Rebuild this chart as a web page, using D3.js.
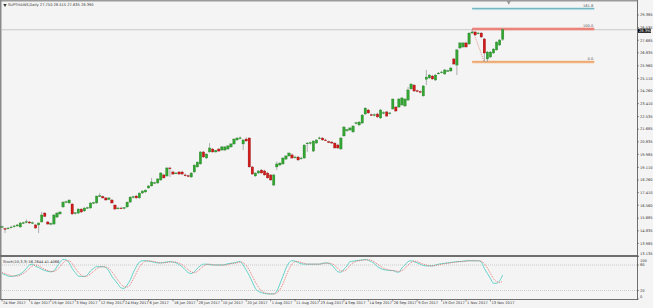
<!DOCTYPE html>
<html>
<head>
<meta charset="utf-8">
<script src="https://cdn.jsdelivr.net/npm/d3@7"></script>
<style>
  html, body { margin: 0; padding: 0; background: #f4f4f4; }
  svg { display: block; font-family: "DejaVu Sans", sans-serif; }
</style>
</head>
<body>
<svg id="chart" width="653" height="308"></svg>
<script>
// daily candles, [open, high, low, close]
const ohlc = [
  [15.09,15.18,15.02,15.12],[14.98,15.05,14.68,14.95],[14.98,15.09,14.92,15.02],[15.05,15.16,15.00,15.09],
  [15.12,15.23,15.05,15.16],[15.16,15.29,15.12,15.23],[15.09,15.43,15.05,15.36],[15.36,15.45,15.29,15.38],
  [15.40,15.60,15.33,15.45],[15.43,15.50,15.30,15.36],[15.36,15.45,15.29,15.38],[15.23,15.30,14.98,15.02],
  [15.23,15.40,14.68,15.36],[15.43,16.10,15.40,15.90],[16.03,16.10,15.76,15.80],[15.43,15.50,15.25,15.29],
  [15.29,15.40,15.20,15.33],[15.29,15.95,15.25,15.90],[15.76,16.10,15.70,16.03],[15.97,16.17,15.93,16.10],
  [16.44,16.84,16.40,16.77],[16.77,16.86,16.70,16.80],[16.71,16.95,16.65,16.91],[16.64,16.70,15.90,15.97],
  [16.00,16.10,15.93,16.05],[16.03,16.36,15.97,16.30],[16.30,16.36,16.05,16.10],[16.17,16.42,16.12,16.37],
  [16.37,16.45,16.30,16.40],[16.37,16.75,16.33,16.71],[16.71,16.80,16.64,16.73],[16.71,17.20,16.66,17.18],
  [17.18,17.38,17.10,17.20],[17.15,17.22,17.00,17.05],[17.05,17.10,16.88,16.91],[16.95,17.10,16.90,17.05],
  [16.91,16.98,16.68,16.71],[16.57,16.62,16.28,16.30],[16.33,16.44,16.28,16.37],[16.37,16.45,16.30,16.35],
  [16.35,16.44,16.28,16.40],[16.44,16.80,16.40,16.77],[16.77,17.15,16.72,17.11],[17.11,17.20,17.02,17.13],
  [17.18,17.25,17.00,17.05],[17.05,17.42,17.00,17.38],[17.38,17.55,17.33,17.52],[17.45,17.62,17.40,17.58],
  [17.72,17.90,17.68,17.86],[17.86,18.40,17.82,18.13],[18.06,18.15,17.98,18.08],[18.06,18.38,18.00,18.33],
  [18.26,18.80,18.20,18.73],[18.60,18.68,18.35,18.40],[18.53,19.14,18.48,19.07],[19.07,19.15,18.46,19.05],
  [18.80,18.90,18.62,18.66],[18.70,18.80,18.65,18.73],[18.80,18.85,18.62,18.66],[18.80,18.88,18.60,18.66],
  [18.60,18.70,18.50,18.58],[18.55,18.62,18.45,18.53],[18.46,18.78,18.42,18.73],[18.80,19.30,18.75,19.27],
  [19.14,19.50,19.10,19.47],[19.34,20.20,19.30,20.15],[20.15,20.22,19.76,19.81],[19.74,20.05,19.70,20.01],
  [20.15,20.75,20.10,20.42],[20.35,20.42,20.10,20.15],[20.15,20.30,20.10,20.25],[20.35,20.40,20.18,20.21],
  [20.28,20.55,20.24,20.49],[20.28,20.55,20.22,20.49],[20.35,20.60,20.30,20.56],[20.49,20.75,20.44,20.69],
  [20.69,21.08,20.64,21.02],[20.96,21.15,20.90,21.09],[21.09,21.20,21.00,21.10],[20.69,21.00,20.28,20.96],
  [21.02,21.15,20.85,20.89],[21.09,21.15,19.10,19.14],[19.14,19.20,18.62,18.66],[18.53,18.78,18.48,18.73],
  [18.73,18.92,18.68,18.87],[18.93,19.00,18.70,18.73],[18.87,18.95,18.55,18.60],[18.73,18.80,18.35,18.40],
  [18.60,18.65,18.20,18.26],[17.92,18.66,17.85,18.60],[19.14,19.50,18.93,19.34],[19.27,19.47,19.20,19.40],
  [19.34,19.80,19.30,19.74],[19.67,19.92,19.62,19.88],[19.88,20.12,19.84,20.08],[19.95,20.05,19.70,19.74],
  [19.78,19.90,19.70,19.81],[19.81,19.88,19.55,19.61],[19.70,19.82,19.62,19.74],[19.74,20.65,19.70,20.62],
  [20.72,20.82,20.15,20.75],[20.75,20.85,20.65,20.78],[20.21,20.92,20.15,20.89],[20.75,21.00,20.70,20.96],
  [21.07,21.18,21.00,21.10],[21.09,21.15,20.90,20.96],[20.96,21.05,20.88,20.94],[20.84,20.92,20.75,20.80],
  [20.82,20.88,20.70,20.75],[20.75,20.80,20.38,20.42],[20.62,20.70,20.35,20.42],[20.35,21.15,20.30,21.09],
  [21.23,21.90,21.18,21.83],[21.58,21.72,21.50,21.65],[21.63,21.80,21.58,21.77],[21.50,21.95,21.45,21.90],
  [22.08,22.18,22.00,22.12],[21.97,22.22,21.92,22.17],[22.10,22.70,22.05,22.64],[22.71,23.15,22.65,23.11],
  [22.98,23.05,22.72,22.78],[22.66,22.75,22.58,22.64],[22.64,22.75,22.55,22.66],[22.71,22.80,22.45,22.51],
  [22.44,23.05,22.38,22.98],[22.78,22.90,22.70,22.80],[22.85,22.92,22.52,22.57],[22.75,22.85,22.68,22.78],
  [23.05,23.75,23.00,23.72],[23.18,23.25,22.88,22.91],[23.18,23.78,23.12,23.72],[23.32,23.85,23.28,23.79],
  [23.25,23.76,23.20,23.72],[23.65,24.53,23.60,24.33],[24.40,24.78,24.35,24.73],[24.66,24.72,24.20,24.26],
  [24.28,24.35,24.18,24.24],[24.22,24.30,24.12,24.19],[23.93,24.66,23.88,24.60],[25.05,25.68,24.66,25.20],
  [25.14,25.40,25.08,25.34],[25.27,25.35,25.02,25.07],[25.00,25.40,24.95,25.34],[25.45,25.55,25.38,25.47],
  [25.52,25.62,25.45,25.54],[25.41,25.74,25.36,25.68],[25.60,25.70,25.55,25.63],[25.61,25.88,25.56,25.81],
  [26.42,26.50,26.03,26.08],[26.01,27.10,25.34,27.03],[27.16,27.56,27.10,27.50],[27.23,27.56,27.18,27.50],
  [27.50,27.58,27.18,27.23],[27.43,28.20,27.38,28.17],[28.17,28.44,28.12,28.24],[28.24,28.31,27.98,28.04],
  [28.15,28.25,28.08,28.17],[28.17,28.22,27.85,27.90],[27.77,27.83,26.22,26.82],[26.42,26.95,26.22,26.89],
  [26.55,26.95,26.50,26.89],[26.82,27.15,26.78,27.09],[27.03,27.62,26.98,27.56],[27.36,27.76,27.30,27.70],
  [27.750,28.515,27.635,28.390]
];

// Stoch(10,3,3) main and signal
const stochK = [
  60,57,54,53,54,56,59,64,72,80,82,77,74,70,67,65,64,66,76,86,
  93,92,85,72,62,54,53,53,57,66,72,76,76,76,74,66,53,44,35,26,
  25,33,45,62,76,87,90,90,89,88,86,85,85,86,87,88,87,85,81,76,
  69,62,60,64,72,78,82,82,81,80,80,80,80,81,83,84,85,87,88,80,
  68,55,40,25,18,15,13,12,12,12,18,35,53,72,85,90,89,86,83,82,
  82,82,82,82,82,84,85,84,80,72,64,63,70,78,88,89,90,91,92,93,
  91,88,83,76,72,69,68,67,67,64,63,73,80,88,90,88,85,82,79,78,
  78,78,80,82,83,84,85,86,87,88,88,89,90,90,90,90,90,87,72,60,
  48,37,37,43,56.2644
];
const stochD = [
  62,60,57,55,54,54,56,60,65,72,78,80,78,74,70,67,65,65,69,76,
  85,90,90,83,73,63,56,53,54,59,65,71,75,76,75,72,64,54,44,35,
  29,28,34,47,61,75,84,89,90,89,88,86,85,85,86,87,87,87,84,81,
  75,69,64,62,65,71,77,81,82,81,80,80,80,80,81,83,84,85,87,85,
  79,68,54,40,28,19,15,13,12,12,14,22,35,53,70,82,88,88,86,84,
  82,82,82,82,82,83,84,84,83,79,72,66,66,70,79,85,89,90,91,92,
  92,91,87,82,77,72,70,68,67,66,65,67,72,80,86,89,88,85,82,80,
  78,78,79,80,82,83,84,85,86,87,88,88,89,90,90,90,90,89,83,73,
  60,48,41,39,41.4066
];

const priceTicks = [29.385, 28.535, 27.685, 26.835, 25.960, 25.110, 24.260, 23.410, 22.535, 21.685,
  20.835, 19.985, 19.110, 18.260, 17.410, 16.560, 15.685, 14.835, 13.985, 13.135];
const stochTicks = [100, 80, 20, 0];
const stochLevels = [80, 20];

const dateLabels = ["24 Mar 2017","5 Apr 2017","19 Apr 2017","3 May 2017","12 May 2017","24 May 2017",
  "6 Jun 2017","16 Jun 2017","28 Jun 2017","10 Jul 2017","20 Jul 2017","1 Aug 2017","11 Aug 2017",
  "23 Aug 2017","4 Sep 2017","14 Sep 2017","26 Sep 2017","9 Oct 2017","19 Oct 2017","1 Nov 2017","13 Nov 2017"];
const dateBars = [0, 9, 16, 24, 32, 40, 48, 56, 64, 72, 80, 88, 96, 104, 112, 120, 128, 136, 144, 152, 160];

// fibonacci retracement drawn on the last swing
const fibLevels = [161.8, 100.0, 0.0];
const fibAnchor = { bar0: 154, bar1: 158, high: 28.44, low: 26.22, barEnd: 194 };

const lastBar = ohlc[ohlc.length - 1];
const titleText = "SUPTHAINS,Daily  " + lastBar.map(v => v.toFixed(3)).join(" ");

const W = 653, H = 308;
const axisX = 637;
const svg = d3.select("#chart");

const x = d3.scaleLinear().domain([0, 208]).range([2, axisX]);
const y = d3.scaleLinear().domain([13.135, 29.385]).range([256, 15]);
const ys = d3.scaleLinear().domain([0, 100]).range([299, 256.5]);

// frame
svg.append("rect").attr("width", W).attr("height", H).attr("fill", "#f4f4f4");
svg.append("line").attr("x1", 0).attr("x2", axisX).attr("y1", 0.5).attr("y2", 0.5)
  .attr("stroke", "#9a9a9a").attr("stroke-width", 2);
svg.append("line").attr("x1", 0.5).attr("x2", 0.5).attr("y1", 0).attr("y2", 299)
  .attr("stroke", "#8a8a8a").attr("stroke-width", 2);
svg.append("line").attr("x1", 0).attr("x2", axisX).attr("y1", 256).attr("y2", 256)
  .attr("stroke", "#6e6e6e").attr("stroke-width", 2);
svg.append("line").attr("x1", 0).attr("x2", axisX).attr("y1", 299.5).attr("y2", 299.5)
  .attr("stroke", "#6e6e6e").attr("stroke-width", 1);
svg.append("line").attr("x1", axisX + 0.5).attr("x2", axisX + 0.5).attr("y1", 0).attr("y2", 300)
  .attr("stroke", "#6e6e6e").attr("stroke-width", 1);

// chart-shift marker
svg.append("path").attr("d", d3.symbol(d3.symbolTriangle, 10)())
  .attr("transform", `translate(${x(166)},2) rotate(180)`).attr("fill", "#9a9a9a");

// bid line
svg.append("line").attr("x1", 2).attr("x2", axisX).attr("y1", y(lastBar[3])).attr("y2", y(lastBar[3]))
  .attr("stroke", "#c8c8c8").attr("stroke-width", 1);

// fibonacci
const fib = svg.append("g");
const fibY = lv => y(fibAnchor.low + (fibAnchor.high - fibAnchor.low) * lv / 100);
const fibStyle = { "161.8": ["#c9e6ea", "#63aebb"], "100": ["#f5b0a8", "#e2574c"], "0": ["#f7d3b4", "#e38b46"] };
fibLevels.forEach(lv => {
  const st = fibStyle[String(lv)];
  fib.append("line").attr("x1", x(fibAnchor.bar0)).attr("x2", x(fibAnchor.barEnd))
    .attr("y1", fibY(lv)).attr("y2", fibY(lv)).attr("stroke", st[0]).attr("stroke-width", 3);
  fib.append("line").attr("x1", x(fibAnchor.bar0)).attr("x2", x(fibAnchor.barEnd))
    .attr("y1", fibY(lv)).attr("y2", fibY(lv)).attr("stroke", st[1]).attr("stroke-width", 1);
  fib.append("text").attr("x", x(fibAnchor.barEnd) - 1).attr("y", fibY(lv) - 2)
    .attr("text-anchor", "end").attr("font-size", 3.6).attr("fill", "#555").text(lv.toFixed(1));
});
fib.append("line").attr("x1", x(fibAnchor.bar0)).attr("y1", y(fibAnchor.high))
  .attr("x2", x(fibAnchor.bar1)).attr("y2", y(fibAnchor.low))
  .attr("stroke", "#e26a60").attr("stroke-width", 0.8).attr("stroke-dasharray", "1,1.2");

// candles
const bw = 2.4;
const candles = svg.append("g").selectAll("g").data(ohlc).join("g");
candles.append("line")
  .attr("x1", (d, i) => x(i)).attr("x2", (d, i) => x(i))
  .attr("y1", d => y(d[1])).attr("y2", d => y(d[2]))
  .attr("stroke", "#9c9c9c").attr("stroke-width", 0.8);
candles.append("rect")
  .attr("x", (d, i) => x(i) - bw / 2).attr("width", bw)
  .attr("y", d => y(Math.max(d[0], d[3])))
  .attr("height", d => Math.max(0.8, Math.abs(y(d[0]) - y(d[3]))))
  .attr("fill", d => d[3] >= d[0] ? "#33a533" : "#d11a1a")
  .attr("stroke", d => d[3] >= d[0] ? "#1f7a1f" : "#8e0d0d").attr("stroke-width", 0.3);

// price axis
const pa = svg.append("g").attr("font-size", 3.6).attr("fill", "#333");
priceTicks.forEach(t => {
  pa.append("line").attr("x1", axisX).attr("x2", axisX + 2).attr("y1", y(t)).attr("y2", y(t)).attr("stroke", "#555").attr("stroke-width", 0.6);
  const ty = t === 13.135 ? 254.8 : y(t) + 1.3;
  pa.append("text").attr("x", axisX + 3).attr("y", ty).text(t.toFixed(3));
});
const bidY = y(lastBar[3]) + 1;
pa.append("rect").attr("x", axisX + 1).attr("y", bidY - 2.1).attr("width", 13).attr("height", 4.2).attr("fill", "#111");
pa.append("text").attr("x", axisX + 2).attr("y", bidY + 1.3).attr("fill", "#fff").text(lastBar[3].toFixed(3));

// title
svg.append("path").attr("d", d3.symbol(d3.symbolTriangle, 5)())
  .attr("transform", "translate(5,5) rotate(180)").attr("fill", "#333");
svg.append("text").attr("x", 8).attr("y", 6.3).attr("font-size", 3.6).attr("fill", "#333").text(titleText);

// stochastic pane
stochLevels.forEach(l => {
  svg.append("line").attr("x1", 2).attr("x2", axisX).attr("y1", ys(l)).attr("y2", ys(l))
    .attr("stroke", "#b0b0b0").attr("stroke-width", 0.6).attr("stroke-dasharray", "1,1");
});
const kLine = d3.line().x((d, i) => x(i)).y(d => ys(d)).curve(d3.curveMonotoneX);
svg.append("path").attr("d", kLine(stochK)).attr("fill", "none").attr("stroke", "#52cfc4").attr("stroke-width", 0.9);
svg.append("path").attr("d", kLine(stochD)).attr("fill", "none").attr("stroke", "#ee5a5a")
  .attr("stroke-width", 0.8).attr("stroke-dasharray", "1,1");
svg.append("text").attr("x", 3).attr("y", 263).attr("font-size", 3.6).attr("fill", "#333")
  .text(`Stoch(10,3,3) ${stochK[stochK.length - 1].toFixed(4)} ${stochD[stochD.length - 1].toFixed(4)}`);

const sa = svg.append("g").attr("font-size", 3.6).attr("fill", "#333");
stochTicks.forEach(t => {
  const ty = t === 100 ? 262 : t === 0 ? 297.8 : ys(t) + 1.3;
  sa.append("line").attr("x1", axisX).attr("x2", axisX + 2).attr("y1", ys(t)).attr("y2", ys(t)).attr("stroke", "#555").attr("stroke-width", 0.6);
  sa.append("text").attr("x", axisX + 3).attr("y", ty).text(t);
});

// time axis
const ta = svg.append("g").attr("font-size", 3.6).attr("fill", "#333");
dateLabels.forEach((lab, k) => {
  const tx = x(dateBars[k]);
  ta.append("line").attr("x1", tx).attr("x2", tx).attr("y1", 299).attr("y2", 301.5).attr("stroke", "#555").attr("stroke-width", 0.6);
  ta.append("text").attr("x", tx + 1).attr("y", 304).text(lab);
});
</script>
</body>
</html>
